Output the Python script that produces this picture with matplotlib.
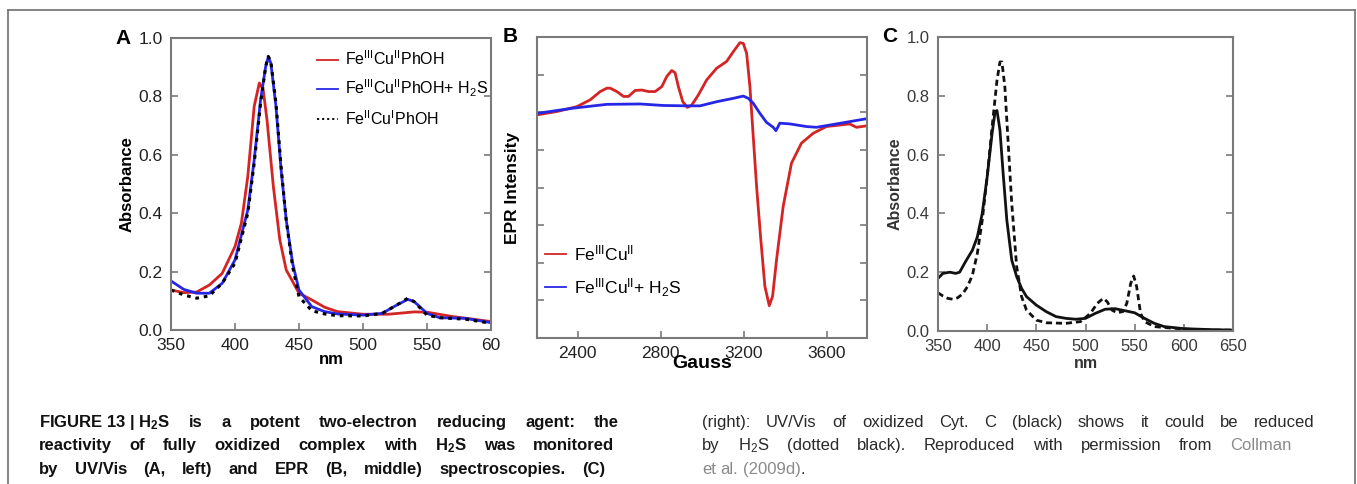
import matplotlib
matplotlib.use("Agg")

import numpy as np
import matplotlib.pyplot as plt
from matplotlib.lines import Line2D

plt.rcParams['font.family'] = ['Liberation Sans', 'DejaVu Sans']
plt.rcParams['mathtext.fontset'] = 'custom'
plt.rcParams['mathtext.rm'] = 'Liberation Sans'
plt.rcParams['mathtext.bf'] = 'Liberation Sans:bold'
plt.rcParams['mathtext.it'] = 'Liberation Sans:italic'

# ---- Panel A: UV/Vis of the model complex ----
a_red_nm = [350, 360, 370, 380, 390, 400, 405, 410, 415, 419, 422, 425, 430, 435,
            440, 450, 460, 470, 480, 500, 520, 540, 550, 570, 600]
a_red_abs = [0.137, 0.128, 0.130, 0.154, 0.194, 0.286, 0.366, 0.526, 0.766, 0.846,
             0.823, 0.720, 0.490, 0.309, 0.206, 0.126, 0.103, 0.078, 0.063, 0.054,
             0.054, 0.062, 0.061, 0.046, 0.029]

a_blue_nm = [350, 360, 370, 380, 390, 400, 410, 415, 420, 424, 426, 428, 432, 436,
             440, 445, 450, 460, 470, 480, 500, 515, 525, 535, 540, 550, 560, 580, 600]
a_blue_abs = [0.168, 0.139, 0.126, 0.126, 0.160, 0.240, 0.411, 0.583, 0.789, 0.903,
              0.935, 0.914, 0.766, 0.549, 0.377, 0.229, 0.137, 0.080, 0.063, 0.055,
              0.051, 0.057, 0.082, 0.105, 0.097, 0.057, 0.042, 0.040, 0.025]

a_blk_nm = a_blue_nm
a_blk_abs = [0.137, 0.120, 0.109, 0.117, 0.160, 0.229, 0.400, 0.571, 0.777, 0.903,
             0.937, 0.920, 0.777, 0.560, 0.377, 0.217, 0.114, 0.066, 0.055, 0.049,
             0.048, 0.057, 0.082, 0.109, 0.097, 0.051, 0.042, 0.037, 0.023]

a_labels = [r"Fe$^{\mathrm{III}}$Cu$^{\mathrm{II}}$PhOH",
            r"Fe$^{\mathrm{III}}$Cu$^{\mathrm{II}}$PhOH+ H$_2$S",
            r"Fe$^{\mathrm{II}}$Cu$^{\mathrm{I}}$PhOH"]

# ---- Panel B: EPR ----
b_red_g = [2205, 2301, 2397, 2461, 2509, 2541, 2557, 2589, 2621, 2645, 2677, 2709,
           2741, 2773, 2805, 2829, 2853, 2869, 2885, 2906, 2928, 2949, 2981, 3021,
           3069, 3117, 3149, 3181, 3197, 3213, 3229, 3245, 3261, 3280, 3301, 3322,
           3338, 3357, 3389, 3429, 3477, 3533, 3597, 3661, 3709, 3741, 3792]
b_red_int = [5.93, 6.02, 6.15, 6.33, 6.55, 6.64, 6.64, 6.55, 6.42, 6.42, 6.58, 6.59,
             6.55, 6.55, 6.68, 6.95, 7.11, 7.05, 6.68, 6.28, 6.13, 6.19, 6.46, 6.86,
             7.17, 7.35, 7.61, 7.85, 7.83, 7.57, 6.68, 5.35, 4.03, 2.70, 1.37, 0.86,
             1.11, 2.08, 3.50, 4.65, 5.18, 5.44, 5.62, 5.66, 5.69, 5.60, 5.64]

b_blue_g = [2205, 2381, 2541, 2701, 2813, 2925, 2989, 3069, 3149, 3197, 3221, 3245,
            3277, 3309, 3341, 3354, 3373, 3421, 3501, 3549, 3645, 3792]
b_blue_int = [5.97, 6.11, 6.21, 6.22, 6.18, 6.17, 6.17, 6.28, 6.37, 6.43, 6.37, 6.24,
              5.97, 5.73, 5.60, 5.51, 5.71, 5.69, 5.62, 5.60, 5.69, 5.83]

b_labels = [r"Fe$^{\mathrm{III}}$Cu$^{\mathrm{II}}$",
            r"Fe$^{\mathrm{III}}$Cu$^{\mathrm{II}}$+ H$_2$S"]

# ---- Panel C: UV/Vis of Cyt. c ----
c_ox_nm = [350, 355, 362, 368, 372, 378, 385, 390, 395, 400, 405, 408, 410, 413, 416,
           420, 425, 430, 435, 440, 450, 460, 470, 480, 490, 500, 510, 520, 530, 540,
           550, 560, 570, 580, 600, 625, 650]
c_ox_abs = [0.179, 0.196, 0.200, 0.196, 0.200, 0.236, 0.275, 0.320, 0.400, 0.524,
            0.672, 0.745, 0.750, 0.683, 0.547, 0.377, 0.241, 0.185, 0.145, 0.117,
            0.088, 0.066, 0.049, 0.043, 0.040, 0.043, 0.060, 0.074, 0.076, 0.069,
            0.062, 0.043, 0.026, 0.015, 0.008, 0.005, 0.003]

c_red_nm = [350, 355, 360, 365, 370, 375, 380, 385, 390, 395, 400, 405, 410, 413, 415,
            418, 421, 425, 430, 435, 440, 450, 460, 480, 495, 505, 512, 518, 522, 527,
            532, 538, 542, 546, 549, 552, 556, 560, 570, 590, 620, 650]
c_red_abs = [0.130, 0.119, 0.111, 0.108, 0.113, 0.126, 0.151, 0.190, 0.264, 0.377,
             0.524, 0.694, 0.853, 0.915, 0.915, 0.830, 0.660, 0.434, 0.219, 0.117,
             0.071, 0.037, 0.028, 0.026, 0.032, 0.060, 0.094, 0.111, 0.100, 0.071,
             0.062, 0.066, 0.094, 0.162, 0.187, 0.151, 0.060, 0.032, 0.015, 0.009,
             0.003, 0.003]

W, H = 1357, 484
fig = plt.figure(figsize=(W / 100, H / 100), dpi=100)

RED = '#d42424'
BLUE = '#2626e6'
SPINE = '#7a7a7a'


def px_axes(x0, y0, x1, y1):
    return fig.add_axes([x0 / W, 1 - y1 / H, (x1 - x0) / W, (y1 - y0) / H])


def style(ax, size=12.5, color='#222222'):
    for s in ax.spines.values():
        s.set_color(SPINE)
        s.set_linewidth(1.5)
    ax.tick_params(direction='in', length=5, width=1.2, color=SPINE,
                   left=True, right=True, top=False, bottom=True,
                   labelsize=size, labelcolor=color, pad=6)


# Panel A
axA = px_axes(171, 38, 491, 330)
axA.plot(a_red_nm, a_red_abs, color=RED, lw=2, label=a_labels[0])
axA.plot(a_blue_nm, a_blue_abs, color=BLUE, lw=2, label=a_labels[1])
axA.plot(a_blk_nm, a_blk_abs, color='black', lw=2.2, ls=(0, (1.2, 1.6)),
         label=a_labels[2])
axA.set_xlim(350, 600)
axA.set_ylim(0, 1.0)
axA.set_xticks([350, 400, 450, 500, 550, 600])
axA.set_xticklabels(['350', '400', '450', '500', '550', '60'])
axA.set_yticks([0, 0.2, 0.4, 0.6, 0.8, 1.0])
axA.set_yticklabels(['0.0', '0.2', '0.4', '0.6', '0.8', '1.0'])
style(axA)
axA.set_xlabel('nm', fontweight='bold', fontsize=12)
axA.xaxis.set_label_coords(0.5, -0.075)
axA.set_ylabel('Absorbance', fontweight='bold', fontsize=12)
axA.yaxis.set_label_coords(-0.113, 0.5)
legA = axA.legend(loc='upper left', bbox_to_anchor=(0.456, 0.96), frameon=False,
                  fontsize=11.5, handlelength=1.3, handletextpad=0.45,
                  labelspacing=0.6, borderpad=0, borderaxespad=0)
for h in legA.get_lines():
    h.set_linewidth(1.3)
fig.text(123 / W, 1 - 38 / H, 'A', fontsize=15, fontweight='bold',
         ha='center', va='center')

# Panel B
axB = px_axes(537, 37, 867, 338)
axB.plot(b_red_g, b_red_int, color=RED, lw=2, label=b_labels[0])
axB.plot(b_blue_g, b_blue_int, color=BLUE, lw=2, label=b_labels[1])
axB.set_xlim(2205, 3792)
axB.set_ylim(0, 8)
axB.set_xticks([2400, 2800, 3200, 3600])
axB.set_yticks([1, 2, 3, 4, 5, 6, 7])
style(axB)
axB.tick_params(labelleft=False)
axB.set_xlabel('Gauss', fontweight='bold', fontsize=14)
axB.xaxis.set_label_coords(0.5, -0.055)
axB.set_ylabel('EPR Intensity', fontweight='bold', fontsize=12.5)
axB.yaxis.set_label_coords(-0.052, 0.5)
legB = axB.legend(loc='upper left', bbox_to_anchor=(0.024, 0.315), frameon=False,
                  fontsize=12.5, handlelength=1.2, handletextpad=0.5,
                  labelspacing=0.75, borderpad=0, borderaxespad=0)
for h in legB.get_lines():
    h.set_linewidth(1.3)
fig.text(510 / W, 1 - 37 / H, 'B', fontsize=15, fontweight='bold',
         ha='center', va='center')

# Panel C
axC = px_axes(938, 37, 1233, 331)
axC.plot(c_ox_nm, c_ox_abs, color='#111111', lw=2)
axC.plot(c_red_nm, c_red_abs, color='#111111', lw=2, ls=(0, (2.2, 1.4)))
axC.set_xlim(350, 650)
axC.set_ylim(0, 1.0)
axC.set_xticks([350, 400, 450, 500, 550, 600, 650])
axC.set_yticks([0, 0.2, 0.4, 0.6, 0.8, 1.0])
axC.set_yticklabels(['0.0', '0.2', '0.4', '0.6', '0.8', '1.0'])
style(axC, size=12, color='#3a3a3a')
axC.set_xlabel('nm', fontweight='bold', fontsize=11.5, color='#333333')
axC.xaxis.set_label_coords(0.5, -0.085)
axC.set_ylabel('Absorbance', fontweight='bold', fontsize=11.5, color='#333333')
axC.yaxis.set_label_coords(-0.12, 0.5)
fig.text(890 / W, 1 - 37 / H, 'C', fontsize=15, fontweight='bold',
         ha='center', va='center')

# outer frame
frame_kw = dict(color='#707070', lw=1.2, transform=fig.transFigure)
fig.add_artist(Line2D([8 / W, 8 / W], [0, 1 - 10 / H], **frame_kw))
fig.add_artist(Line2D([8 / W, 1355 / W], [1 - 10 / H, 1 - 10 / H], **frame_kw))
fig.add_artist(Line2D([1355 / W, 1355 / W], [0, 1 - 10 / H], **frame_kw))

# caption, justified word by word
renderer = fig.canvas.get_renderer()
GRAY = '#8a8a8a'
INK = '#111111'
INK2 = '#2a2a2a'


def caption_line(words, x0, x1, y, bold, justify=True, size=12, ink=INK):
    # each word is a list of (text, colour) pieces set side by side
    groups = []
    for w in words:
        pieces = w if isinstance(w, list) else [(w, ink)]
        ts = []
        for txt, col in pieces:
            t = fig.text(x0 / W, 1 - y / H, txt, fontsize=size, color=col,
                         fontweight='bold' if bold else 'normal', va='baseline')
            ts.append((t, t.get_window_extent(renderer).width))
        groups.append(ts)
    widths = [sum(w for _, w in g) for g in groups]
    space = size * 100 / 72 * 0.28
    gap = space
    if justify and len(groups) > 1:
        gap = max(space, (x1 - x0 - sum(widths)) / (len(groups) - 1))
    x = x0
    for g, w in zip(groups, widths):
        xx = x
        for t, pw in g:
            t.set_x(xx / W)
            xx += pw
        x += w + gap


left_lines = [
    [r"FIGURE 13 | $\mathbf{H_2S}$", 'is', 'a', 'potent', 'two-electron',
     'reducing', 'agent:', 'the'],
    ['reactivity', 'of', 'fully', 'oxidized', 'complex', 'with',
     r"$\mathbf{H_2S}$", 'was', 'monitored'],
    ['by', 'UV/Vis', '(A,', 'left)', 'and', 'EPR', '(B,', 'middle)',
     'spectroscopies.', '(C)'],
]
right_lines = [
    ['(right):', 'UV/Vis', 'of', 'oxidized', 'Cyt.', 'C', '(black)', 'shows', 'it',
     'could', 'be', 'reduced'],
    ['by', r"H$_2$S", '(dotted', 'black).', 'Reproduced', 'with', 'permission',
     'from', [('Collman', GRAY)]],
    [[('et', GRAY)], [('al.', GRAY)], [('(2009d)', GRAY), ('.', INK2)]],
]
baselines = [427, 450, 474]
left_ends = [619, 614, 605]
right_ends = [1315, 1292, 1292]
for words, yb, xe in zip(left_lines, baselines, left_ends):
    caption_line(words, 39, xe, yb, bold=True)
for i, (words, yb, xe) in enumerate(zip(right_lines, baselines, right_ends)):
    caption_line(words, 702, xe, yb, bold=False, justify=(i < 2), ink=INK2)

fig.savefig('out.png', dpi=100)
